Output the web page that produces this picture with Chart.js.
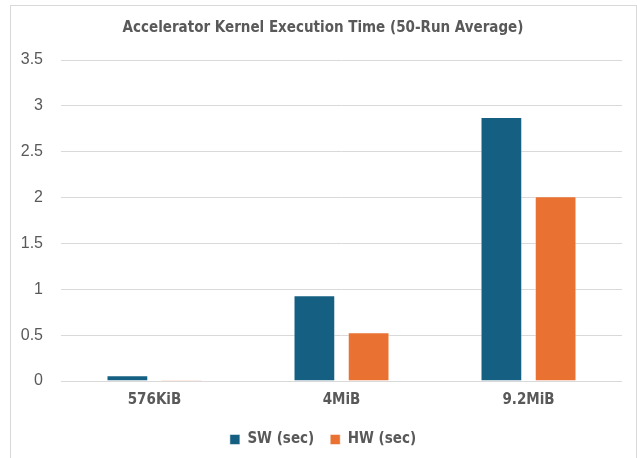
<!DOCTYPE html>
<html>
<head>
<meta charset="utf-8">
<script src="https://cdn.jsdelivr.net/npm/chart.js@4.4.0/dist/chart.umd.min.js"></script>
<style>
  html, body { margin: 0; padding: 0; background: #fff; }
  #wrap { position: relative; width: 637px; height: 458px; overflow: hidden; }
  #frame { position: absolute; left: 10px; top: 5px; width: 627px; height: 460px; border: 1px solid #d9d9d9; box-sizing: border-box; pointer-events: none; }
</style>
</head>
<body>
<div id="wrap">
  <canvas id="grafico" width="637" height="458"></canvas>
  <div id="frame"></div>
</div>
<script>
const categorias = ['576KiB', '4MiB', '9.2MiB'];
const tempoSW = [0.062, 0.934, 2.879];
const tempoHW = [0.01, 0.531, 2.014];

const cinza = '#595959';
const fonte = "'Liberation Sans Narrow', 'DejaVu Sans Condensed', 'Liberation Sans', sans-serif";

const ctx = document.getElementById('grafico').getContext('2d');

let grafico = new Chart(ctx, {
  type: 'bar',
  data: {
    labels: categorias,
    datasets: [
      {
        label: 'SW (sec)',
        data: tempoSW,
        backgroundColor: '#156082',
        borderColor: 'rgba(255,255,255,0.5)',
        borderWidth: 1,
        categoryPercentage: 0.58,
        barPercentage: 0.77
      },
      {
        label: 'HW (sec)',
        data: tempoHW,
        backgroundColor: '#e97132',
        borderColor: 'rgba(255,255,255,0.5)',
        borderWidth: 1,
        categoryPercentage: 0.58,
        barPercentage: 0.77
      }
    ]
  },
  options: {
    responsive: false,
    animation: false,
    layout: { padding: { left: 10, right: 1, top: 0, bottom: 1 } },
    scales: {
      x: {
        grid: { display: false },
        border: { display: false },
        ticks: { color: cinza, padding: 2, font: { family: fonte, size: 15, weight: 'bold' } },
        afterFit: (scale) => { scale.height = 35; }
      },
      y: {
        min: 0,
        max: 3.5,
        ticks: {
          stepSize: 0.5,
          color: cinza,
          padding: 18,
          font: { family: "'Liberation Sans', Arial, sans-serif", size: 16 },
          callback: (v) => String(v)
        },
        grid: { color: '#d9d9d9', lineWidth: 1, drawTicks: false },
        border: { display: false },
        afterFit: (scale) => { scale.width = 51; }
      },
      direita: {
        position: 'right',
        display: true,
        grid: { display: false },
        border: { display: false },
        ticks: { display: false },
        afterFit: (scale) => { scale.width = 14; }
      }
    },
    plugins: {
      title: {
        display: true,
        text: 'Accelerator Kernel Execution Time (50-Run Average)',
        color: cinza,
        font: { family: fonte, size: 15, weight: 'bold' },
        padding: { top: 19, bottom: 23 }
      },
      legend: {
        position: 'bottom',
        labels: {
          color: cinza,
          boxWidth: 10,
          boxHeight: 10,
          padding: 16,
          font: { family: fonte, size: 15, weight: 'bold' }
        }
      },
      tooltip: { enabled: false }
    }
  }
});
</script>
</body>
</html>
